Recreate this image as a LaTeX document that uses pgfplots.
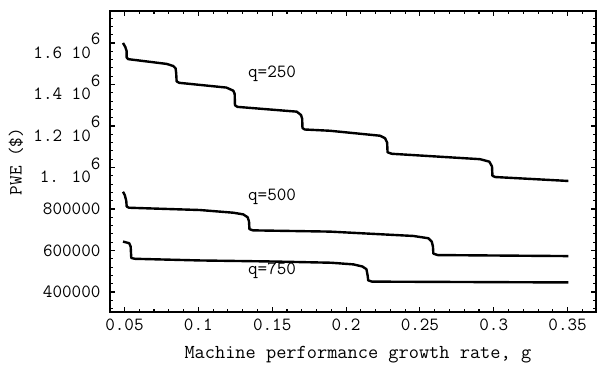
\documentclass[border=0pt]{standalone}
\usepackage{pgfplots}
\pgfplotsset{compat=1.18}
\newcommand{\tf}{\ttfamily\fontsize{18.6}{20}\selectfont}
\newcommand{\ex}[1]{\smash{\raisebox{-9.5pt}{#1 10}\raisebox{4pt}{6}}\vphantom{0}}
\begin{document}
\begin{tikzpicture}
\begin{axis}[
  scale only axis,
  width=486pt, height=301pt,
  xmin=0.0402, xmax=0.3692,
  ymin=303600, ymax=1754000,
  scaled y ticks=false, scaled x ticks=false,
  tick pos=both, tick align=inside,
  xtick={0.05,0.1,0.15,0.2,0.25,0.3,0.35},
  xticklabels={0.05,0.1,0.15,0.2,0.25,0.3,0.35},
  minor xtick={0.04,0.06,0.07,0.08,0.09,0.11,0.12,0.13,0.14,0.16,0.17,0.18,0.19,0.21,0.22,0.23,0.24,0.26,0.27,0.28,0.29,0.31,0.32,0.33,0.34,0.36},
  ytick={400000,600000,800000,1000000,1200000,1400000,1600000},
  yticklabels={400000,600000,800000,{\ex{1.}},{\ex{1.2}},{\ex{1.4}},{\ex{1.6}}},
  minor ytick={320000,360000,440000,480000,520000,560000,640000,680000,720000,760000,840000,880000,920000,960000,1040000,1080000,1120000,1160000,1240000,1280000,1320000,1360000,1440000,1480000,1520000,1560000,1640000,1680000,1720000},
  major tick length=5pt, minor tick length=3pt,
  major tick style={line width=1.1pt, black},
  minor tick style={line width=1.1pt, black},
  axis line style={line width=1.6pt},
  tick label style={font=\tf},
  xticklabel style={yshift=-3pt},
  yticklabel style={xshift=-6pt},
  /pgf/number format/assume math mode=true,
  clip=false,
]
% q=250
\addplot[black, line width=2.4pt, line join=round] coordinates {
(0.0490,1600000) (0.0506,1580000) (0.0515,1560000) (0.0515,1530000) (0.0525,1522000)
(0.0786,1499000) (0.0830,1489000) (0.0846,1478000) (0.0850,1455000) (0.0853,1415000) (0.0870,1408000)
(0.1190,1385000) (0.1237,1370000) (0.1246,1355000) (0.1248,1300000) (0.1265,1292000)
(0.1666,1269000) (0.1695,1253000) (0.1703,1235000) (0.1705,1190000) (0.1720,1183000)
(0.1890,1177000) (0.2230,1153000) (0.2264,1141000) (0.2278,1120000) (0.2281,1073000) (0.2310,1066000)
(0.2907,1040000) (0.2970,1028000) (0.2988,1005000) (0.2991,960000) (0.3010,954000)
(0.3505,935000)
};
% q=500
\addplot[black, line width=2.4pt, line join=round] coordinates {
(0.0490,883000) (0.0502,867000) (0.0512,840000) (0.0515,812000) (0.0530,806000)
(0.1011,795000) (0.1237,782000) (0.1304,774000) (0.1334,760000) (0.1343,740000) (0.1346,703000) (0.1370,697000)
(0.1890,691000) (0.2455,670000) (0.2557,659000) (0.2580,643000) (0.2588,620000) (0.2591,585000) (0.2620,578000)
(0.3505,573000)
};
% q=750
\addplot[black, line width=2.4pt, line join=round] coordinates {
(0.0490,643000) (0.0532,635000) (0.0542,619000) (0.0544,590000) (0.0546,564000) (0.0570,560000)
(0.1010,552000) (0.1500,547000) (0.1900,541000) (0.2050,533000) (0.2110,523000) (0.2138,510000) (0.2146,480000) (0.2150,456000) (0.2175,450000)
(0.3505,446000)
};
\node[font=\tf] at (axis cs:0.1499,1451000) {q=250};
\node[font=\tf] at (axis cs:0.1499,857000) {q=500};
\node[font=\tf] at (axis cs:0.1499,502000) {q=750};
\node[font=\ttfamily\fontsize{19.8}{21}\selectfont, anchor=center] at ([yshift=-43pt]axis description cs:0.51,0) {Machine performance growth rate, g};
\node[font=\tf, anchor=center, rotate=90] at ([xshift=-94pt]axis description cs:0,0.5) {PWE (\$)};
\end{axis}
\path ([xshift=-110pt,yshift=-55pt]current axis.south west) rectangle ([xshift=1pt,yshift=11pt]current axis.north east);
\end{tikzpicture}
\end{document}
